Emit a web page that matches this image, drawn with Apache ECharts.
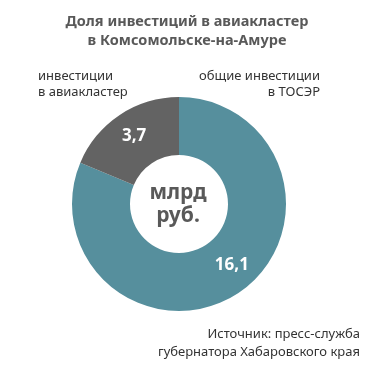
<!DOCTYPE html>
<html>
<head>
<meta charset="utf-8">
<script src="https://cdn.jsdelivr.net/npm/echarts@6/dist/echarts.min.js"></script>
<style>
  html, body { margin: 0; padding: 0; background: #fff; }
  #chart { width: 377px; height: 380px; }
</style>
</head>
<body>
<div id="chart"></div>
<script>
// данные
const categories = ['общие инвестиции в ТОСЭР', 'инвестиции в авиакластер'];
const values = [16.1, 3.7];
const colors = ['#568f9d', '#636363'];

const textColor = '#595959';
const font = '"Noto Sans", sans-serif';

const chart = echarts.init(document.getElementById('chart'));

// текстовая подпись на холсте
const txt = (text, x, y, align, size, weight, color, lh) => ({
  type: 'text',
  silent: true,
  style: {
    text: text,
    x: x,
    y: y,
    align: align,
    verticalAlign: 'middle',
    fill: color,
    font: weight + ' ' + size + 'px ' + font,
    lineHeight: lh
  }
});

const option = {
  backgroundColor: '#fff',
  graphic: [
    txt('Доля инвестиций в авиакластер\nв Комсомольске-на-Амуре', 187, 31, 'center', 14.5, 'bold', textColor, 19),
    txt('инвестиции\nв авиакластер', 38, 84, 'left', 13, 'normal', '#333', 16),
    txt('общие инвестиции\nв ТОСЭР', 320, 84, 'right', 13, 'normal', '#333', 16),
    txt('Источник: пресс-служба\nгубернатора Хабаровского края', 360, 343, 'right', 13, 'normal', '#333', 18),
    txt('млрд\nруб.', 178, 205, 'center', 21, 'bold', textColor, 23)
  ],
  series: [
    {
      type: 'pie',
      center: [179, 204],
      radius: [49, 107],
      startAngle: 90,
      clockwise: true,
      silent: true,
      itemStyle: { borderWidth: 0 },
      label: {
        show: true,
        position: 'inside',
        color: '#fff',
        fontFamily: font,
        fontSize: 17,
        fontWeight: 'bold',
        formatter: (p) => String(p.value).replace('.', ',')
      },
      labelLine: { show: false },
      data: categories.map((name, i) => ({
        name: name,
        value: values[i],
        itemStyle: { color: colors[i] },
        label: i === 0 ? { offset: [8, -6] } : {}
      }))
    }
  ]
};

chart.setOption(option);
</script>
</body>
</html>
